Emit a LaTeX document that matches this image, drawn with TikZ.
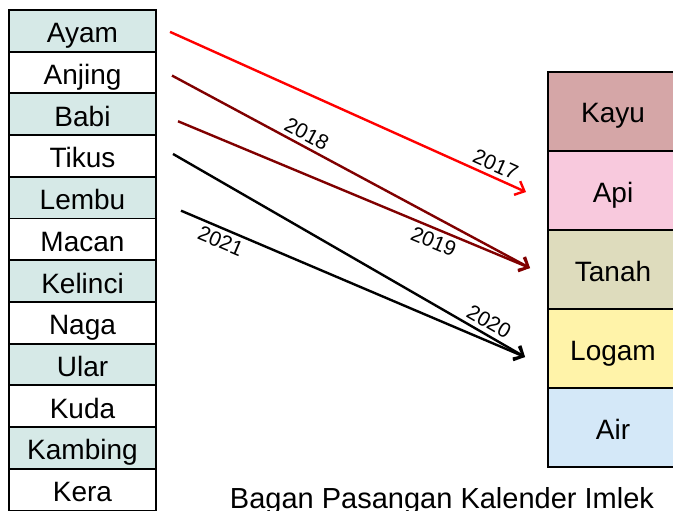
\documentclass[tikz,border=0pt]{standalone}
\usepackage{fontspec}
\setmainfont{Liberation Sans}
\usepackage{xcolor}
\usepackage{tikz}
\usetikzlibrary{calc,positioning,arrows.meta}
\definecolor{rowTeal}{HTML}{D6E9E7}
\definecolor{kayuColor}{HTML}{D5A6A7}
\definecolor{apiColor}{HTML}{F8C9DD}
\definecolor{tanahColor}{HTML}{DEDCBD}
\definecolor{logamColor}{HTML}{FFF3A9}
\definecolor{airColor}{HTML}{D4E8F8}
\definecolor{darkMaroon}{HTML}{800000}
\tikzstyle{shio}=[rectangle, draw=black, line width=1.8pt, outer sep=0pt, inner sep=0pt, minimum width=147pt, minimum height=41.7pt, text height=24pt, text depth=0pt, text centered, font=\fontsize{28}{30}\selectfont]
\tikzstyle{unsur}=[rectangle, draw=black, line width=1.8pt, outer sep=0pt, inner sep=0pt, minimum width=130pt, minimum height=79pt, text height=23pt, text depth=0pt, text centered, font=\fontsize{28}{30}\selectfont]
\tikzstyle{arrow}=[line width=2.4pt, -{Straight Barb[length=8pt,width=15pt,line width=2.4pt]}]
\tikzset{
	year/.style={
		sloped,
		text=black,
		inner sep=4pt,
		font=\fontsize{21}{23}\selectfont
	}
}

\begin{document}
\begin{tikzpicture}[x=1pt,y=-1pt]
	\useasboundingbox (0,0) rectangle (673,511);
	\clip (0,0) rectangle (673,511);
	
	% shio column
	\node(ayam)[shio, fill=rowTeal, anchor=north west] at (9,10) {Ayam};
	\node(anjing)[shio, fill=white, below=0pt of ayam] {Anjing};
	\node(babi)[shio, fill=rowTeal, below=0pt of anjing] {Babi};
	\node(tikus)[shio, fill=white, below=0pt of babi] {Tikus};
	\node(lembu)[shio, fill=rowTeal, below=0pt of tikus] {Lembu};
	\node(macan)[shio, fill=white, below=0pt of lembu] {Macan};
	\node(kelinci)[shio, fill=rowTeal, below=0pt of macan] {Kelinci};
	\node(naga)[shio, fill=white, below=0pt of kelinci] {Naga};
	\node(ular)[shio, fill=rowTeal, below=0pt of naga] {Ular};
	\node(kuda)[shio, fill=white, below=0pt of ular] {Kuda};
	\node(kambing)[shio, fill=rowTeal, below=0pt of kuda] {Kambing};
	\node(kera)[shio, fill=white, below=0pt of kambing] {Kera};
	
	% unsur column
	\node(kayu)[unsur, fill=kayuColor, anchor=north west] at (548,72) {Kayu};
	\node(api)[unsur, fill=apiColor, below=0pt of kayu] {Api};
	\node(tanah)[unsur, fill=tanahColor, below=0pt of api] {Tanah};
	\node(logam)[unsur, fill=logamColor, below=0pt of tanah] {Logam};
	\node(air)[unsur, fill=airColor, below=0pt of logam] {Air};
	
	\draw [arrow, red] ([xshift=14pt,yshift=-1pt]ayam.east) -- node[year, above, pos=0.9]{2017} ([xshift=-22pt,yshift=-1.5pt]api.west);
	\draw [arrow, darkMaroon] ([xshift=16pt,yshift=-3pt]anjing.east) -- node[year, above, pos=0.36]{2018} ([xshift=-18pt,yshift=1.5pt]tanah.west);
	\draw [arrow, darkMaroon] ([xshift=22pt,yshift=-7pt]babi.east) -- node[year, below, pos=0.74]{2019} ([xshift=-18pt,yshift=1.5pt]tanah.west);
	\draw [arrow, black] ([xshift=17pt,yshift=2pt]tikus.east) -- node[year, above, pos=0.88]{2020} ([xshift=-23pt,yshift=-8.5pt]logam.west);
	\draw [arrow, black] ([xshift=25pt,yshift=-13pt]lembu.east) -- node[year, below, pos=0.13]{2021} ([xshift=-23pt,yshift=-8.5pt]logam.west);
	
	\node(caption)[anchor=base, font=\fontsize{29}{31}\selectfont] at (442,508) {Bagan Pasangan Kalender Imlek};
\end{tikzpicture}
\end{document}
